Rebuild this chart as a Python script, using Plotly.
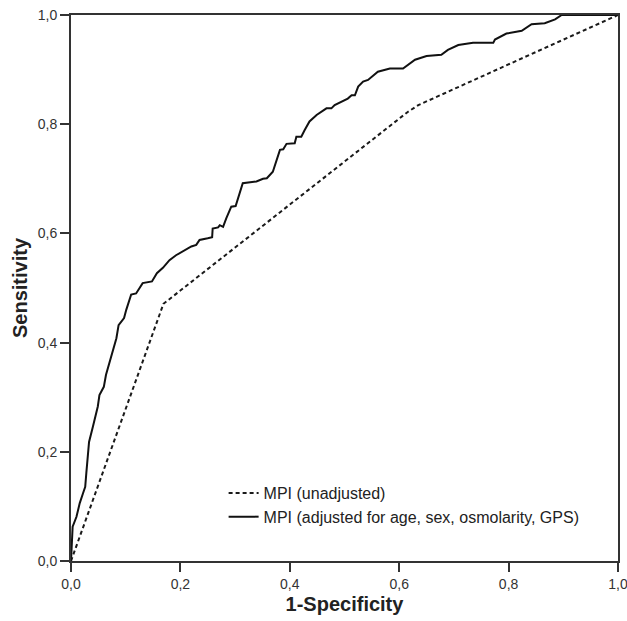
import plotly.graph_objects as go

# Dashed ROC curve: MPI (unadjusted)
unadj_fpr = [0.0, 0.169, 0.615, 0.635, 1.0]
unadj_tpr = [0.0, 0.471, 0.822, 0.835, 1.0]

# Solid ROC curve: MPI (adjusted for age, sex, osmolarity, GPS)
adj_fpr = [0.0, 0.003, 0.010, 0.016, 0.022, 0.026, 0.028, 0.031, 0.033, 0.040,
           0.049, 0.052, 0.060, 0.064, 0.072, 0.076, 0.083, 0.087, 0.097, 0.101,
           0.110, 0.119, 0.131, 0.148, 0.157, 0.168, 0.180, 0.192, 0.202, 0.220,
           0.229, 0.235, 0.250, 0.258, 0.259, 0.269, 0.272, 0.278, 0.284, 0.293,
           0.301, 0.305, 0.314, 0.339, 0.351, 0.358, 0.369, 0.382, 0.388, 0.394,
           0.409, 0.412, 0.421, 0.427, 0.436, 0.449, 0.467, 0.476, 0.482, 0.506,
           0.513, 0.519, 0.525, 0.534, 0.543, 0.561, 0.583, 0.607, 0.629, 0.650,
           0.677, 0.689, 0.708, 0.735, 0.772, 0.775, 0.796, 0.824, 0.842, 0.866,
           0.885, 0.897, 1.0]
adj_tpr = [0.0, 0.063, 0.081, 0.106, 0.124, 0.136, 0.161, 0.191, 0.218, 0.246,
           0.283, 0.304, 0.319, 0.341, 0.368, 0.386, 0.408, 0.432, 0.445, 0.460,
           0.488, 0.490, 0.509, 0.512, 0.527, 0.537, 0.551, 0.560, 0.566, 0.576,
           0.579, 0.588, 0.591, 0.593, 0.609, 0.611, 0.615, 0.612, 0.628, 0.649,
           0.650, 0.664, 0.692, 0.695, 0.700, 0.701, 0.713, 0.753, 0.754, 0.764,
           0.765, 0.777, 0.777, 0.789, 0.805, 0.817, 0.829, 0.829, 0.835, 0.847,
           0.853, 0.853, 0.869, 0.878, 0.881, 0.896, 0.902, 0.902, 0.918, 0.925,
           0.927, 0.936, 0.945, 0.949, 0.949, 0.955, 0.966, 0.971, 0.983, 0.985,
           0.992, 1.0, 1.0]

tick_vals = [0.0, 0.2, 0.4, 0.6, 0.8, 1.0]
tick_text = ["0,0", "0,2", "0,4", "0,6", "0,8", "1,0"]

FONT = "Liberation Sans, Arial, sans-serif"
AXC = "#333333"

fig = go.Figure()
fig.add_trace(go.Scatter(
    x=unadj_fpr, y=unadj_tpr, mode="lines", name="MPI (unadjusted)",
    line=dict(color="#1a1a1a", width=2, dash="4px,3px"),
))
fig.add_trace(go.Scatter(
    x=adj_fpr, y=adj_tpr, mode="lines",
    name="MPI (adjusted for age, sex, osmolarity, GPS)",
    line=dict(color="#111111", width=2),
))

axis_common = dict(
    range=[0, 1], tickvals=tick_vals, ticktext=tick_text, automargin=False,
    ticklabeloverflow="allow",
    showgrid=False, zeroline=False, showline=True, mirror=True,
    linecolor=AXC, linewidth=2, ticks="outside", ticklen=9, tickwidth=2,
    tickcolor=AXC, tickfont=dict(family=FONT, size=14, color="#333333"),
)

fig.update_layout(
    width=627, height=621,
    margin=dict(l=71, r=9, t=15, b=60),
    paper_bgcolor="white", plot_bgcolor="white",
    font=dict(family=FONT, color="#222222"),
    hovermode=False,
    xaxis=dict(**axis_common,
               title=dict(text="<b>1-Specificity</b>", standoff=6,
                          font=dict(family=FONT, size=20, color="#222222"))),
    yaxis=dict(**axis_common,
               title=dict(text="<b>Sensitivity</b>", standoff=5,
                          font=dict(family=FONT, size=20, color="#222222"))),
    legend=dict(
        x=0.279, y=0.1026, xanchor="left", yanchor="middle",
        bgcolor="rgba(0,0,0,0)", borderwidth=0,
        font=dict(family=FONT, size=16, color="#222222"),
        itemwidth=30, tracegroupgap=0,
    ),
    showlegend=True,
)

fig.write_html(
    "out.html",
    config={"displayModeBar": False},
    post_script="document.body.style.margin='0';document.body.style.overflow='hidden';",
)
